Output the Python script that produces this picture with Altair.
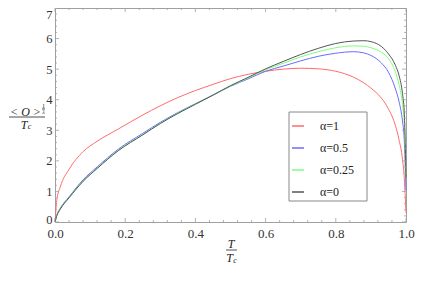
import altair as alt
import pandas as pd

# ---------------- data ----------------
T_vals = [0.0, 0.005, 0.015, 0.04, 0.08, 0.12, 0.18, 0.25, 0.3, 0.35, 0.4, 0.45,
          0.5, 0.55, 0.6, 0.65, 0.7, 0.75, 0.8, 0.85, 0.88, 0.9, 0.93, 0.95,
          0.97, 0.98, 0.99, 0.995, 1.0]

alpha_1 = [0.0, 0.7, 1.15, 1.72, 2.3, 2.64, 3.04, 3.5, 3.8, 4.07, 4.3, 4.5,
           4.69, 4.83, 4.93, 5.0, 5.03, 5.01, 4.93, 4.74, 4.55, 4.38, 4.05, 3.7,
           3.15, 2.7, 2.05, 1.45, 0.3]
alpha_05 = [0.0, 0.22, 0.45, 0.82, 1.38, 1.8, 2.38, 2.9, 3.26, 3.58, 3.87, 4.15,
            4.44, 4.68, 4.93, 5.1, 5.27, 5.42, 5.52, 5.57, 5.53, 5.45, 5.2, 4.9,
            4.35, 3.95, 3.3, 2.7, 1.03]
alpha_025 = [0.0, 0.2, 0.43, 0.8, 1.34, 1.76, 2.34, 2.86, 3.23, 3.56, 3.86, 4.15,
             4.45, 4.71, 4.98, 5.19, 5.4, 5.57, 5.7, 5.76, 5.75, 5.7, 5.55, 5.35,
             4.9, 4.5, 3.85, 3.25, 1.45]
alpha_0 = [0.0, 0.2, 0.42, 0.79, 1.33, 1.75, 2.33, 2.85, 3.22, 3.55, 3.85, 4.15,
           4.46, 4.73, 5.01, 5.25, 5.48, 5.68, 5.84, 5.92, 5.93, 5.9, 5.74, 5.5,
           5.12, 4.8, 4.2, 3.6, 1.45]

series_names = ["α=1", "α=0.5", "α=0.25", "α=0"]
series_vals = [alpha_1, alpha_05, alpha_025, alpha_0]
series_colors = ["#ff6b6b", "#6b6bff", "#7cff7c", "#555555"]

x_major = [0.0, 0.2, 0.4, 0.6, 0.8, 1.0]
x_minor = [0.04, 0.08, 0.12, 0.16, 0.24, 0.28, 0.32, 0.36, 0.44, 0.48, 0.52, 0.56,
           0.64, 0.68, 0.72, 0.76, 0.84, 0.88, 0.92, 0.96]
y_major = [0, 1, 2, 3, 4, 5, 6, 7]
y_minor = [v / 5 for v in range(35) if v % 5 != 0]

W, H = 351, 214
FONT = "Liberation Serif"
FRAME = "#a0a0a0"

rows = []
for name, vals in zip(series_names, series_vals):
    for t, o in zip(T_vals, vals):
        rows.append({"T": t, "O": o, "series": name})
df = pd.DataFrame(rows)

xs = alt.Scale(domain=[0, 1], nice=False, zero=False)
ys = alt.Scale(domain=[0, 7], nice=False, zero=False)

x_axis = alt.Axis(values=x_major, format=".1f", ticks=False, domain=False,
                  grid=False, labelPadding=5, title=None,
                  labelFlush=False, labelOverlap=False,
                  labelFont=FONT, labelFontSize=13, labelColor="#333")
y_axis = alt.Axis(values=y_major, format="d", ticks=False, domain=False,
                  grid=False, labelPadding=3, title=None,
                  labelFlush=False, labelOverlap=False,
                  labelBaseline={"condition": {"test": "datum.value >= 7",
                                               "value": "top"},
                                 "value": "middle"},
                  labelOffset={"condition": {"test": "datum.value <= 0",
                                             "value": -3},
                               "value": 0},
                  labelFont=FONT, labelFontSize=12.5, labelColor="#333")

lines = alt.Chart(df).mark_line(strokeWidth=1, interpolate="monotone").encode(
    x=alt.X("T:Q", scale=xs, axis=x_axis, title=None),
    y=alt.Y("O:Q", scale=ys, axis=y_axis, title=None),
    color=alt.Color("series:N",
                    scale=alt.Scale(domain=series_names, range=series_colors),
                    sort=series_names,
                    legend=alt.Legend(orient="none", legendX=236, legendY=111,
                                      title=None, symbolType="stroke",
                                      symbolSize=144,
                                      labelFont=FONT, labelFontSize=12,
                                      labelColor="#222", labelOffset=15,
                                      rowPadding=9, padding=0)),
    detail="series:N",
)

def xticks(vals, size):
    d = pd.DataFrame({"v": vals})
    bottom = alt.Chart(d).mark_rule(color=FRAME, strokeWidth=0.8).encode(
        x=alt.X("v:Q", scale=xs, axis=x_axis, title=None),
        y=alt.value(H), y2=alt.value(H - size))
    top = alt.Chart(d).mark_rule(color=FRAME, strokeWidth=0.8).encode(
        x=alt.X("v:Q", scale=xs, axis=x_axis, title=None),
        y=alt.value(0), y2=alt.value(size))
    return [bottom, top]

def yticks(vals, size):
    d = pd.DataFrame({"v": vals})
    left = alt.Chart(d).mark_rule(color=FRAME, strokeWidth=0.8).encode(
        y=alt.Y("v:Q", scale=ys, axis=y_axis, title=None),
        x=alt.value(0), x2=alt.value(size))
    right = alt.Chart(d).mark_rule(color=FRAME, strokeWidth=0.8).encode(
        y=alt.Y("v:Q", scale=ys, axis=y_axis, title=None),
        x=alt.value(W), x2=alt.value(W - size))
    return [left, right]

one = pd.DataFrame({"a": [0]})

def txt(s, x, y, size=12, italic=True, align="center"):
    return alt.Chart(one).mark_text(text=s, font=FONT, fontSize=size,
                                    fontStyle="italic" if italic else "normal",
                                    align=align, baseline="middle",
                                    color="#222").encode(
        x=alt.value(x), y=alt.value(y))

def bar(x1, x2, y):
    return alt.Chart(one).mark_rule(color="#222", strokeWidth=0.8).encode(
        x=alt.value(x1), x2=alt.value(x2), y=alt.value(y))

legend_box = alt.Chart(one).mark_rect(fill="white", stroke="#888",
                                      strokeWidth=1).encode(
    x=alt.value(234), x2=alt.value(312), y=alt.value(104), y2=alt.value(193))

labels = [
    # y title: <O>^(1/λ) / T_c
    txt("< O >", -29.5, 103.5, 12),
    txt("1", -11.5, 98, 6, italic=False),
    bar(-13, -10, 101),
    txt("λ", -11.5, 104, 6),
    bar(-46, -10, 109),
    txt("T", -31, 116.5, 12),
    txt("c", -25.5, 119, 8),
    # x title: T / T_c
    txt("T", 176, 236, 12),
    bar(171, 182, 242),
    txt("T", 174.5, 250, 12),
    txt("c", 180, 252.5, 8),
]

layers = ([lines] + xticks(x_major, 4) + xticks(x_minor, 2) + yticks(y_major, 4)
          + yticks(y_minor, 2) + [legend_box] + labels)

chart = alt.layer(*layers).properties(
    width=W, height=H,
    autosize=alt.AutoSizeParams(type="none"),
    padding={"left": 47, "top": 0, "right": 22, "bottom": 51},
).configure_view(stroke=FRAME, strokeWidth=1)

chart.save("out.html", embed_options={"renderer": "svg", "actions": False})
